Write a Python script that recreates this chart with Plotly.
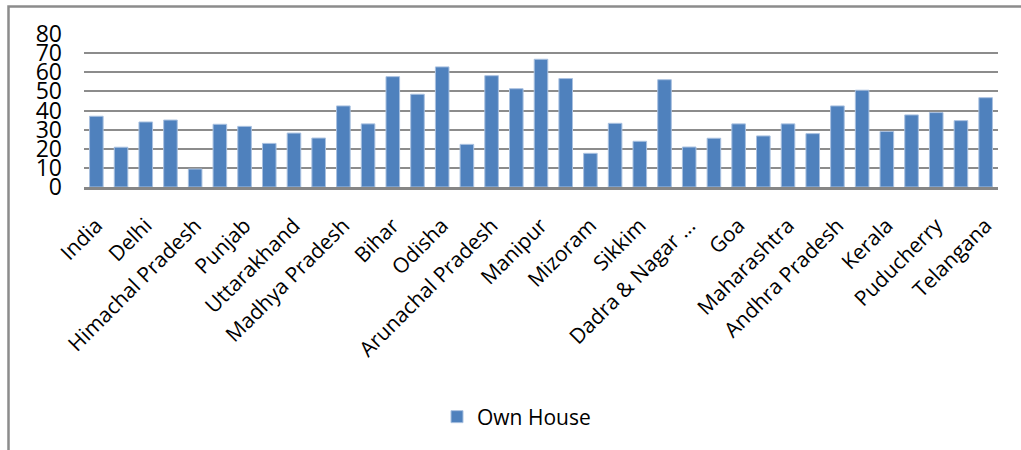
import plotly.graph_objects as go

categories = [
    "India", "Jammu & Kashmir", "Delhi", "Haryana", "Himachal Pradesh", "Chandigarh",
    "Punjab", "Rajasthan", "Uttarakhand", "Chhattisgarh", "Madhya Pradesh", "Uttar Pradesh",
    "Bihar", "Jharkhand", "Odisha", "West Bengal", "Arunachal Pradesh", "Assam",
    "Manipur", "Meghalaya", "Mizoram", "Nagaland", "Sikkim", "Tripura",
    "Dadra & Nagar Haveli", "Daman & Diu", "Goa", "Gujarat", "Maharashtra", "Karnataka",
    "Andhra Pradesh", "Lakshadweep", "Kerala", "Tamil Nadu", "Puducherry",
    "Andaman & Nicobar", "Telangana",
]
own_house = [
    37.0, 20.8, 34.0, 35.0, 9.4, 32.8, 31.7, 22.8, 28.2, 25.6, 42.4, 33.0,
    57.7, 48.5, 62.8, 22.3, 58.2, 51.4, 66.8, 56.7, 17.6, 33.3, 23.9, 56.1,
    20.9, 25.5, 33.0, 26.7, 33.0, 27.9, 42.4, 50.6, 29.0, 37.7, 38.9, 34.7, 46.7,
]
tick_vals = categories[::2]
tick_text = [
    "India", "Delhi", "Himachal Pradesh", "Punjab", "Uttarakhand", "Madhya Pradesh",
    "Bihar", "Odisha", "Arunachal Pradesh", "Manipur", "Mizoram", "Sikkim",
    "Dadra & Nagar ...", "Goa", "Maharashtra", "Andhra Pradesh", "Kerala",
    "Puducherry", "Telangana",
]
y_ticks = [0, 10, 20, 30, 40, 50, 60, 70, 80]

FONT = "Open Sans"
W, H = 1021, 450
ML, MR, MT, MB = 84, 23, 34, 263
PW, PH = W - ML - MR, H - MT - MB

def px_x(p):
    return (p - ML) / PW

def px_y(p):
    return (H - MB - p) / PH

fig = go.Figure(go.Bar(
    x=categories, y=own_house, name="Own House",
    marker=dict(color="#4F81BD", line=dict(color="#A9C1E0", width=1)),
))

fig.update_layout(
    width=W, height=H,
    margin=dict(l=ML, r=MR, t=MT, b=MB, pad=0),
    paper_bgcolor="white", plot_bgcolor="white",
    bargap=0.45,
    font=dict(family=FONT, size=21, color="black"),
    showlegend=True,
    legend=dict(
        orientation="h", x=px_x(437), xanchor="left", y=px_y(417), yanchor="middle",
        font=dict(family=FONT, size=21, color="black"), itemwidth=30,
        bgcolor="rgba(0,0,0,0)",
    ),
    xaxis=dict(
        type="category", tickmode="array", tickvals=tick_vals, ticktext=tick_text,
        tickangle=-45, showgrid=False, showline=True, linecolor="#868686", linewidth=3,
        ticks="", ticklabelstandoff=15, tickfont=dict(family=FONT, size=21),
    ),
    yaxis=dict(
        range=[0, 80], tickmode="array", tickvals=y_ticks, showgrid=True,
        gridcolor="#8C8C8C", gridwidth=2, zeroline=False, showline=False,
        ticks="", ticklabelstandoff=21, tickfont=dict(family=FONT, size=23),
    ),
    shapes=[dict(
        type="rect", xref="paper", yref="paper",
        x0=px_x(8.5), x1=px_x(1040), y0=px_y(470), y1=px_y(6.5),
        line=dict(color="#8C8C8C", width=2.5), fillcolor="rgba(0,0,0,0)", layer="below",
    )],
)

fig.write_html("out.html")
